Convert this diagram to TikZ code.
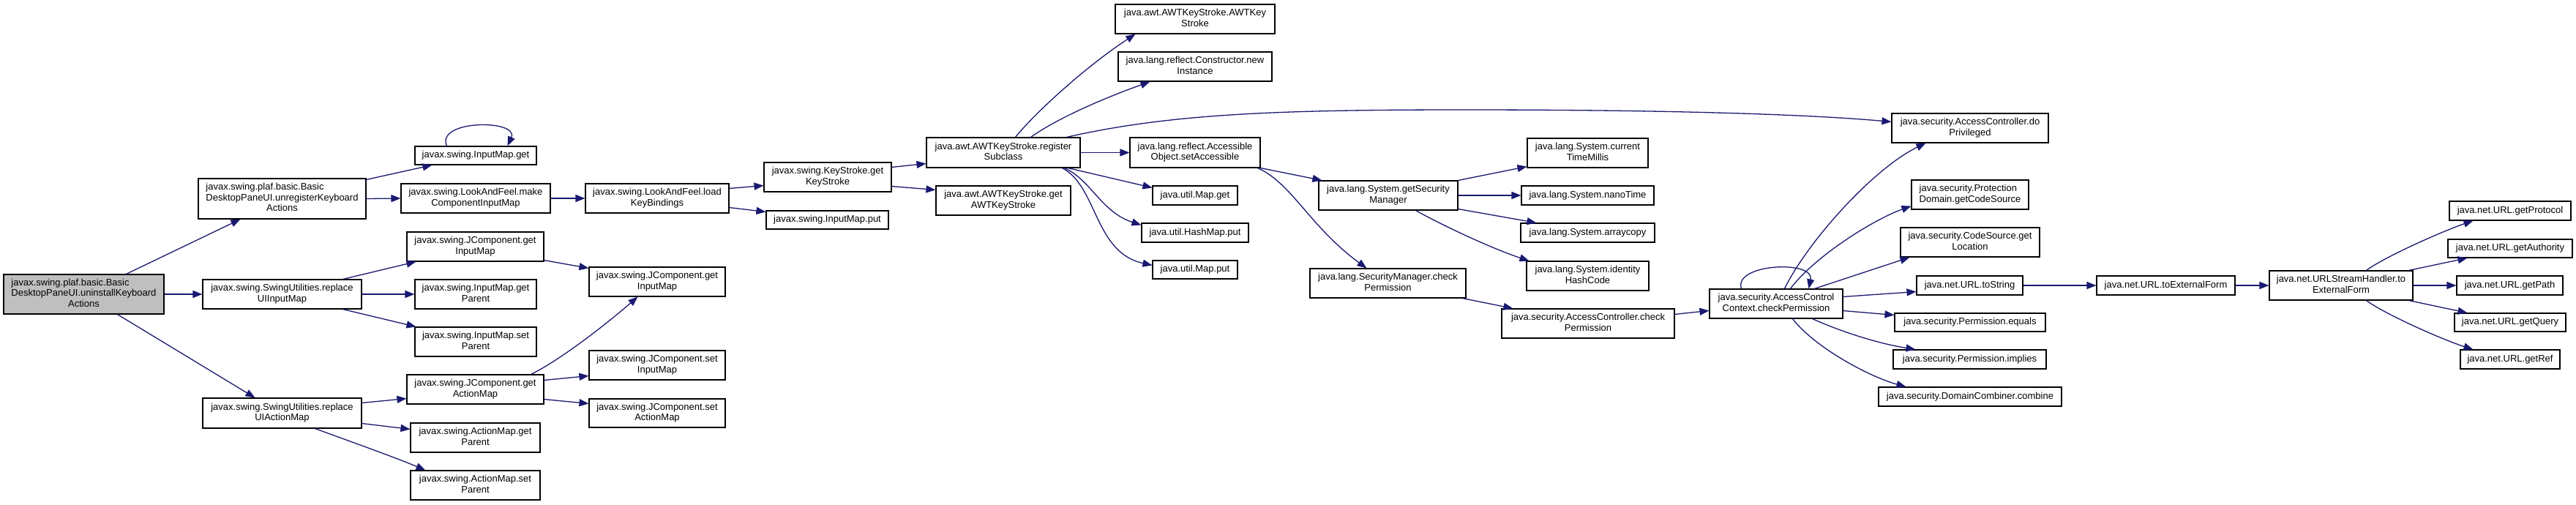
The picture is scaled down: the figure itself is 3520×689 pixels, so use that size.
\documentclass[tikz,border=0pt]{standalone}
\usepackage{fontspec}
\setmainfont{Liberation Sans}
\usetikzlibrary{arrows.meta}
\definecolor{edgecol}{HTML}{191970}
\definecolor{rootfill}{HTML}{BFBFBF}
\newcommand\twol[2]{\begin{tabular}{@{}l@{}}#1\\\multicolumn{1}{@{}c@{}}{#2}\end{tabular}}
\newcommand\threel[3]{\begin{tabular}{@{}l@{}}#1\\#2\\\multicolumn{1}{@{}c@{}}{#3}\end{tabular}}
\newcommand\nd[7][]{\node[nbox,#1,minimum width={(#5-#3)*1pt},minimum height={(#6-#4)*1pt}] (#2) at ({(#3+#5)/2},{(#4+#6)/2}) {#7};}
\begin{document}
\begin{tikzpicture}[x=1pt,y=-1pt,
  nbox/.style={draw=black, line width=1.1pt, fill=white, inner sep=0pt, font=\fontsize{13}{14.4}\selectfont},
  edge/.style={draw=edgecol, line width=1.3pt, -{Triangle[length=13pt,width=10pt]}}]
\fill[white] (0,0) rectangle (3520,689);
\useasboundingbox (0,0) rectangle (3520,689);
% nodes
\nd[fill=rootfill]{root}{5}{375}{224}{429}{\threel{javax.swing.plaf.basic.Basic}{DesktopPaneUI.uninstallKeyboard}{Actions}}
\nd{unreg}{271}{244}{500}{299}{\threel{javax.swing.plaf.basic.Basic}{DesktopPaneUI.unregisterKeyboard}{Actions}}
\nd{imget}{567}{200}{733}{225}{javax.swing.InputMap.get}
\nd{mkcomp}{548}{251}{752}{291}{\twol{javax.swing.LookAndFeel.make}{ComponentInputMap}}
\nd{jgetIn1}{556}{317}{743}{357}{\twol{javax.swing.JComponent.get}{InputMap}}
\nd{replIn}{277}{382}{494}{422}{\twol{javax.swing.SwingUtilities.replace}{UIInputMap}}
\nd{imgetP}{567}{382}{733}{422}{\twol{javax.swing.InputMap.get}{Parent}}
\nd{imsetP}{567}{447}{733}{487}{\twol{javax.swing.InputMap.set}{Parent}}
\nd{jgetAct}{556}{512}{743}{552}{\twol{javax.swing.JComponent.get}{ActionMap}}
\nd{replAct}{277}{544}{494}{585}{\twol{javax.swing.SwingUtilities.replace}{UIActionMap}}
\nd{amgetP}{561}{578}{738}{618}{\twol{javax.swing.ActionMap.get}{Parent}}
\nd{amsetP}{561}{643}{738}{683}{\twol{javax.swing.ActionMap.set}{Parent}}
\nd{jsetIn}{805}{479}{991}{519}{\twol{javax.swing.JComponent.set}{InputMap}}
\nd{jsetAct}{805}{545}{991}{584}{\twol{javax.swing.JComponent.set}{ActionMap}}
\nd{loadKB}{800}{251}{996}{291}{\twol{javax.swing.LookAndFeel.load}{KeyBindings}}
\nd{ksget}{1044}{222}{1218}{262}{\twol{javax.swing.KeyStroke.get}{KeyStroke}}
\nd{imput}{1047}{288}{1214}{313}{javax.swing.InputMap.put}
\nd{jgetIn2}{805}{365}{991}{405}{\twol{javax.swing.JComponent.get}{InputMap}}
\nd{awtks}{1524}{6}{1742}{46}{\twol{java.awt.AWTKeyStroke.AWTKey}{Stroke}}
\nd{newInst}{1528}{71}{1738}{111}{\twol{java.lang.reflect.Constructor.new}{Instance}}
\nd{regSub}{1266}{188}{1476}{229}{\twol{java.awt.AWTKeyStroke.register}{Subclass}}
\nd{getAWT}{1279}{254}{1463}{294}{\twol{java.awt.AWTKeyStroke.get}{AWTKeyStroke}}
\nd{setAcc}{1544}{188}{1722}{229}{\twol{java.lang.reflect.Accessible}{Object.setAccessible}}
\nd{mapget}{1575}{254}{1691}{280}{java.util.Map.get}
\nd{hmput}{1560}{305}{1706}{331}{java.util.HashMap.put}
\nd{mapput}{1575}{356}{1691}{381}{java.util.Map.put}
\nd{getSM}{1802}{247}{1992}{287}{\twol{java.lang.System.getSecurity}{Manager}}
\nd{smcheck}{1790}{367}{2003}{407}{\twol{java.lang.SecurityManager.check}{Permission}}
\nd{ctm}{2087}{189}{2252}{229}{\twol{java.lang.System.current}{TimeMillis}}
\nd{nano}{2079}{254}{2260}{280}{java.lang.System.nanoTime}
\nd{arrc}{2078}{305}{2261}{331}{java.lang.System.arraycopy}
\nd{ihc}{2086}{357}{2253}{397}{\twol{java.lang.System.identity}{HashCode}}
\nd{accheck}{2052}{422}{2288}{462}{\twol{java.security.AccessController.check}{Permission}}
\nd{accctx}{2336}{395}{2518}{435}{\twol{java.security.AccessControl}{Context.checkPermission}}
\nd{doPriv}{2585}{155}{2799}{195}{\twol{java.security.AccessController.do}{Privileged}}
\nd{pdgcs}{2612}{246}{2772}{286}{\twol{java.security.Protection}{Domain.getCodeSource}}
\nd{csgl}{2597}{311}{2787}{351}{\twol{java.security.CodeSource.get}{Location}}
\nd{urlts}{2619}{377}{2764}{403}{java.net.URL.toString}
\nd{peq}{2589}{428}{2795}{453}{java.security.Permission.equals}
\nd{pimp}{2587}{478}{2796}{504}{java.security.Permission.implies}
\nd{dcc}{2567}{529}{2817}{555}{java.security.DomainCombiner.combine}
\nd{urltef}{2865}{377}{3054}{403}{java.net.URL.toExternalForm}
\nd{ushtef}{3101}{370}{3297}{410}{\twol{java.net.URLStreamHandler.to}{ExternalForm}}
\nd{gprot}{3347}{275}{3513}{301}{java.net.URL.getProtocol}
\nd{gauth}{3345}{327}{3515}{352}{java.net.URL.getAuthority}
\nd{gpath}{3357}{377}{3502}{403}{java.net.URL.getPath}
\nd{gquery}{3354}{428}{3506}{453}{java.net.URL.getQuery}
\nd{gref}{3362}{478}{3498}{504}{java.net.URL.getRef}
% edges
\draw[edge] ([xshift=168pt]root.north west) -- ([xshift=58pt]unreg.south west);
\draw[edge] (root.east) -- (replIn.west);
\draw[edge] ([xshift=156pt]root.south west) -- ([xshift=72pt]replAct.north west);
\draw[edge] ([yshift=-2pt]unreg.north east) -- ([xshift=24pt]imget.south west);
\draw[edge] (unreg.east) -- (mkcomp.west);
\draw[edge] ([xshift=44pt]imget.north west) .. controls (595,163) and (710,163) .. ([xshift=127pt]imget.north west);
\draw[edge] (mkcomp.east) -- (loadKB.west);
\draw[edge] ([yshift=-7pt]loadKB.north east) -- ([yshift=9pt]ksget.south west);
\draw[edge] ([yshift=8pt]loadKB.south east) -- ([yshift=-2pt]imput.north west);
\draw[edge] ([yshift=-7pt]ksget.north east) -- ([yshift=6pt]regSub.south west);
\draw[edge] ([yshift=8pt]ksget.south east) -- ([yshift=-6pt]getAWT.north west);
\draw[edge] ([xshift=122pt]regSub.north west) .. controls (1418,150) and (1488,88) .. ([xshift=28pt]awtks.south west);
\draw[edge] ([xshift=143pt]regSub.north west) .. controls (1450,158) and (1520,130) .. ([xshift=44pt]newInst.south west);
\draw[edge] ([xshift=192pt]regSub.north west) .. controls (1600,155) and (1750,150) .. (2000,150) .. controls (2300,150) and (2480,157) .. ([yshift=-12pt]doPriv.north west);
\draw[edge] (regSub.east) -- (setAcc.west);
\draw[edge] ([xshift=194pt]regSub.south west) -- ([yshift=-3pt]mapget.north west);
\draw[edge] ([xshift=189pt]regSub.south west) .. controls (1490,245) and (1505,290) .. ([yshift=-3pt]hmput.north west);
\draw[edge] ([xshift=186pt]regSub.south west) .. controls (1500,255) and (1495,345) .. ([yshift=-7pt]mapput.north west);
\draw[edge] (setAcc.south east) -- ([xshift=5pt]getSM.north west);
\draw[edge] ([xshift=-4pt]setAcc.south east) .. controls (1765,250) and (1790,310) .. ([xshift=78pt]smcheck.north west);
\draw[edge] (getSM.north east) -- ([yshift=2pt]ctm.south west);
\draw[edge] (getSM.east) -- (nano.west);
\draw[edge] ([yshift=2pt]getSM.south east) -- ([xshift=22pt]arrc.north west);
\draw[edge] ([xshift=133pt]getSM.south west) .. controls (1975,310) and (2040,340) .. ([xshift=4pt]ihc.north west);
\draw[edge] ([xshift=-5pt]smcheck.south east) -- ([xshift=16pt]accheck.north west);
\draw[edge] ([yshift=-8pt]accheck.north east) -- ([yshift=-30pt]accctx.north west);
\draw[edge] ([xshift=44pt]accctx.north west) .. controls (2368,360) and (2480,355) .. ([xshift=136pt]accctx.north west);
\draw[edge] ([xshift=103pt]accctx.north west) .. controls (2470,330) and (2560,230) .. ([xshift=47pt]doPriv.south west);
\draw[edge] ([xshift=111pt]accctx.north west) .. controls (2480,350) and (2560,300) .. ([yshift=5pt]pdgcs.south west);
\draw[edge] ([xshift=144pt]accctx.north west) -- ([xshift=13pt]csgl.south west);
\draw[edge] ([yshift=-11pt]accctx.north east) -- ([yshift=5pt]urlts.south west);
\draw[edge] ([yshift=11pt]accctx.south east) -- ([yshift=-3pt]peq.north west);
\draw[edge] ([xshift=141pt]accctx.south west) .. controls (2520,455) and (2570,470) .. ([xshift=31pt]pimp.north west);
\draw[edge] ([xshift=114pt]accctx.south west) .. controls (2480,475) and (2555,515) .. ([xshift=38pt]dcc.north west);
\draw[edge] (urlts.east) -- (urltef.west);
\draw[edge] (urltef.east) -- (ushtef.west);
\draw[edge] ([xshift=133pt]ushtef.north west) .. controls (3260,350) and (3340,315) .. ([xshift=33pt]gprot.south west);
\draw[edge] ([xshift=-6pt]ushtef.north east) -- ([xshift=27pt]gauth.south west);
\draw[edge] (ushtef.east) -- (gpath.west);
\draw[edge] ([xshift=-6pt]ushtef.south east) -- ([xshift=18pt]gquery.north west);
\draw[edge] ([xshift=133pt]ushtef.south west) .. controls (3260,430) and (3340,465) .. ([xshift=18pt]gref.north west);
\draw[edge] ([xshift=-26pt]replIn.north east) -- ([xshift=13pt]jgetIn1.south west);
\draw[edge] (replIn.east) -- (imgetP.west);
\draw[edge] ([xshift=-26pt]replIn.south east) -- ([xshift=2pt]imsetP.north west);
\draw[edge] ([yshift=2pt]jgetIn1.south east) -- ([yshift=-2pt]jgetIn2.north west);
\draw[edge] ([yshift=-7pt]replAct.north east) -- ([yshift=8pt]jgetAct.south west);
\draw[edge] ([yshift=7pt]replAct.south east) -- ([yshift=-9pt]amgetP.north west);
\draw[edge] ([xshift=154pt]replAct.south west) .. controls (470,600) and (540,625) .. ([xshift=21pt]amsetP.north west);
\draw[edge] ([xshift=170pt]jgetAct.north west) .. controls (760,495) and (820,450) .. ([xshift=67pt]jgetIn2.south west);
\draw[edge] ([yshift=-8pt]jgetAct.north east) -- ([yshift=6pt]jsetIn.south west);
\draw[edge] ([yshift=7pt]jgetAct.south east) -- ([yshift=-7pt]jsetAct.north west);
\end{tikzpicture}
\end{document}
